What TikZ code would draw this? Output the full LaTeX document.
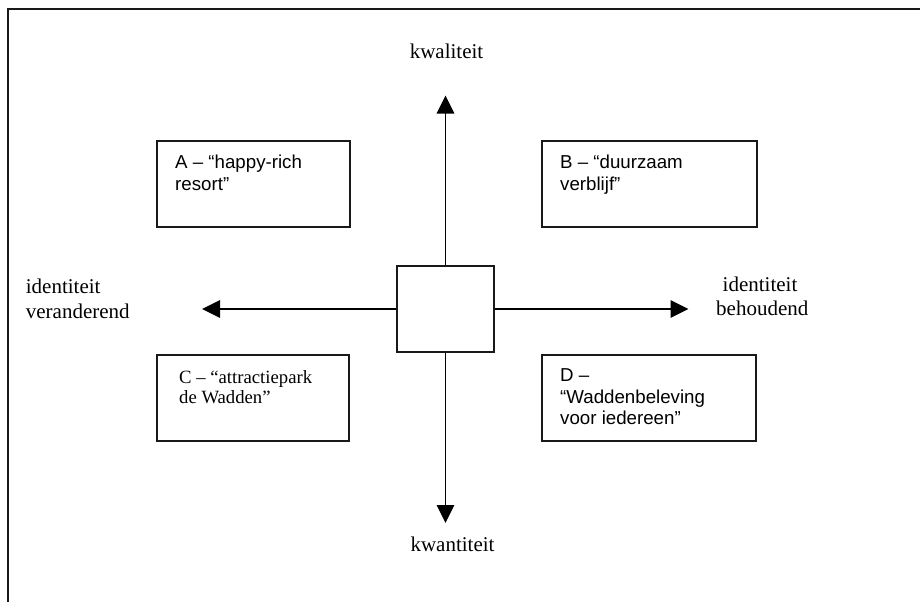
\documentclass[tikz,border=0pt]{standalone}
\usepackage{fontspec}
\setmainfont{Liberation Serif}
\newfontfamily\arialfont{Liberation Sans}
\usetikzlibrary{arrows.meta}
\tikzset{
  frameline/.style={line width=2.4pt, draw=black!90},
  boxshape/.style={draw=black!90, line width=2pt, rectangle, inner sep=0pt},
  axisarrow/.style={line width=1.7pt, -{Triangle[length=18pt,width=17.5pt]}},
  axislabel/.style={inner sep=0pt, font=\fontsize{21}{24}\selectfont},
  sanstext/.style={inner sep=0pt, anchor=base west, font=\arialfont\fontsize{18.7}{21.5}\selectfont},
  seriftext/.style={inner sep=0pt, anchor=base west, font=\fontsize{18.7}{20}\selectfont},
}
\begin{document}
\begin{tikzpicture}[x=1pt,y=-1pt]
\useasboundingbox (0,0) rectangle (920,602);
% outer frame (only top and left edges visible)
\coordinate (fr1) at (920,9);
\coordinate (fr2) at (8,9);
\coordinate (fr3) at (8,602);
\draw[frameline] (fr1) -- (fr2) -- (fr3);

% central square
\node[boxshape, minimum width=97.6pt, minimum height=85.7pt] (c) at (445.5,309) {};

% arrow tips
\coordinate (tu) at (445.5,95.5);
\coordinate (td) at (445.5,523);
\coordinate (tl) at (202,309);
\coordinate (tr) at (688.5,309);
\draw[axisarrow] (c.north) -- (tu);
\draw[axisarrow] (c.south) -- (td);
\draw[axisarrow] (c.west) -- (tl);
\draw[axisarrow] (c.east) -- (tr);

% axis labels
\node[axislabel, anchor=base] (lq) at (446.5,59) {kwaliteit};
\node[axislabel, anchor=base] (lk) at (452.5,551) {kwantiteit};
\node[axislabel, anchor=base west] (li1) at (25.7,293.3) {identiteit};
\node[axislabel, anchor=base west] (li2) at (25.7,318.3) {veranderend};
\node[axislabel, anchor=base] (ri1) at (760,291.7) {identiteit};
\node[axislabel, anchor=base] (ri2) at (762.3,315.5) {behoudend};

% quadrant boxes
\node[boxshape, minimum width=193.3pt, minimum height=85.7pt] (A) at (253.3,183.8) {};
\node[boxshape, minimum width=215pt, minimum height=85.7pt] (B) at (649.2,183.8) {};
\node[boxshape, minimum width=192.6pt, minimum height=86pt] (C) at (253,398) {};
\node[boxshape, minimum width=214.3pt, minimum height=85.7pt] (D) at (648.8,397.8) {};

% box texts
\node[sanstext] (A1) at (175,168.3) {A – “happy-rich};
\node[sanstext] (A2) at (175,190) {resort”};
\node[sanstext] (B1) at (560,168.3) {B – “duurzaam};
\node[sanstext] (B2) at (560,190) {verblijf”};
\node[seriftext] (C1) at (179,383.3) {C – “attractiepark};
\node[seriftext] (C2) at (179,403.5) {de Wadden”};
\node[sanstext] (D1) at (560,381) {D –};
\node[sanstext] (D2) at (560,403) {“Waddenbeleving};
\node[sanstext] (D3) at (560,424) {voor iedereen”};
\end{tikzpicture}
\end{document}
